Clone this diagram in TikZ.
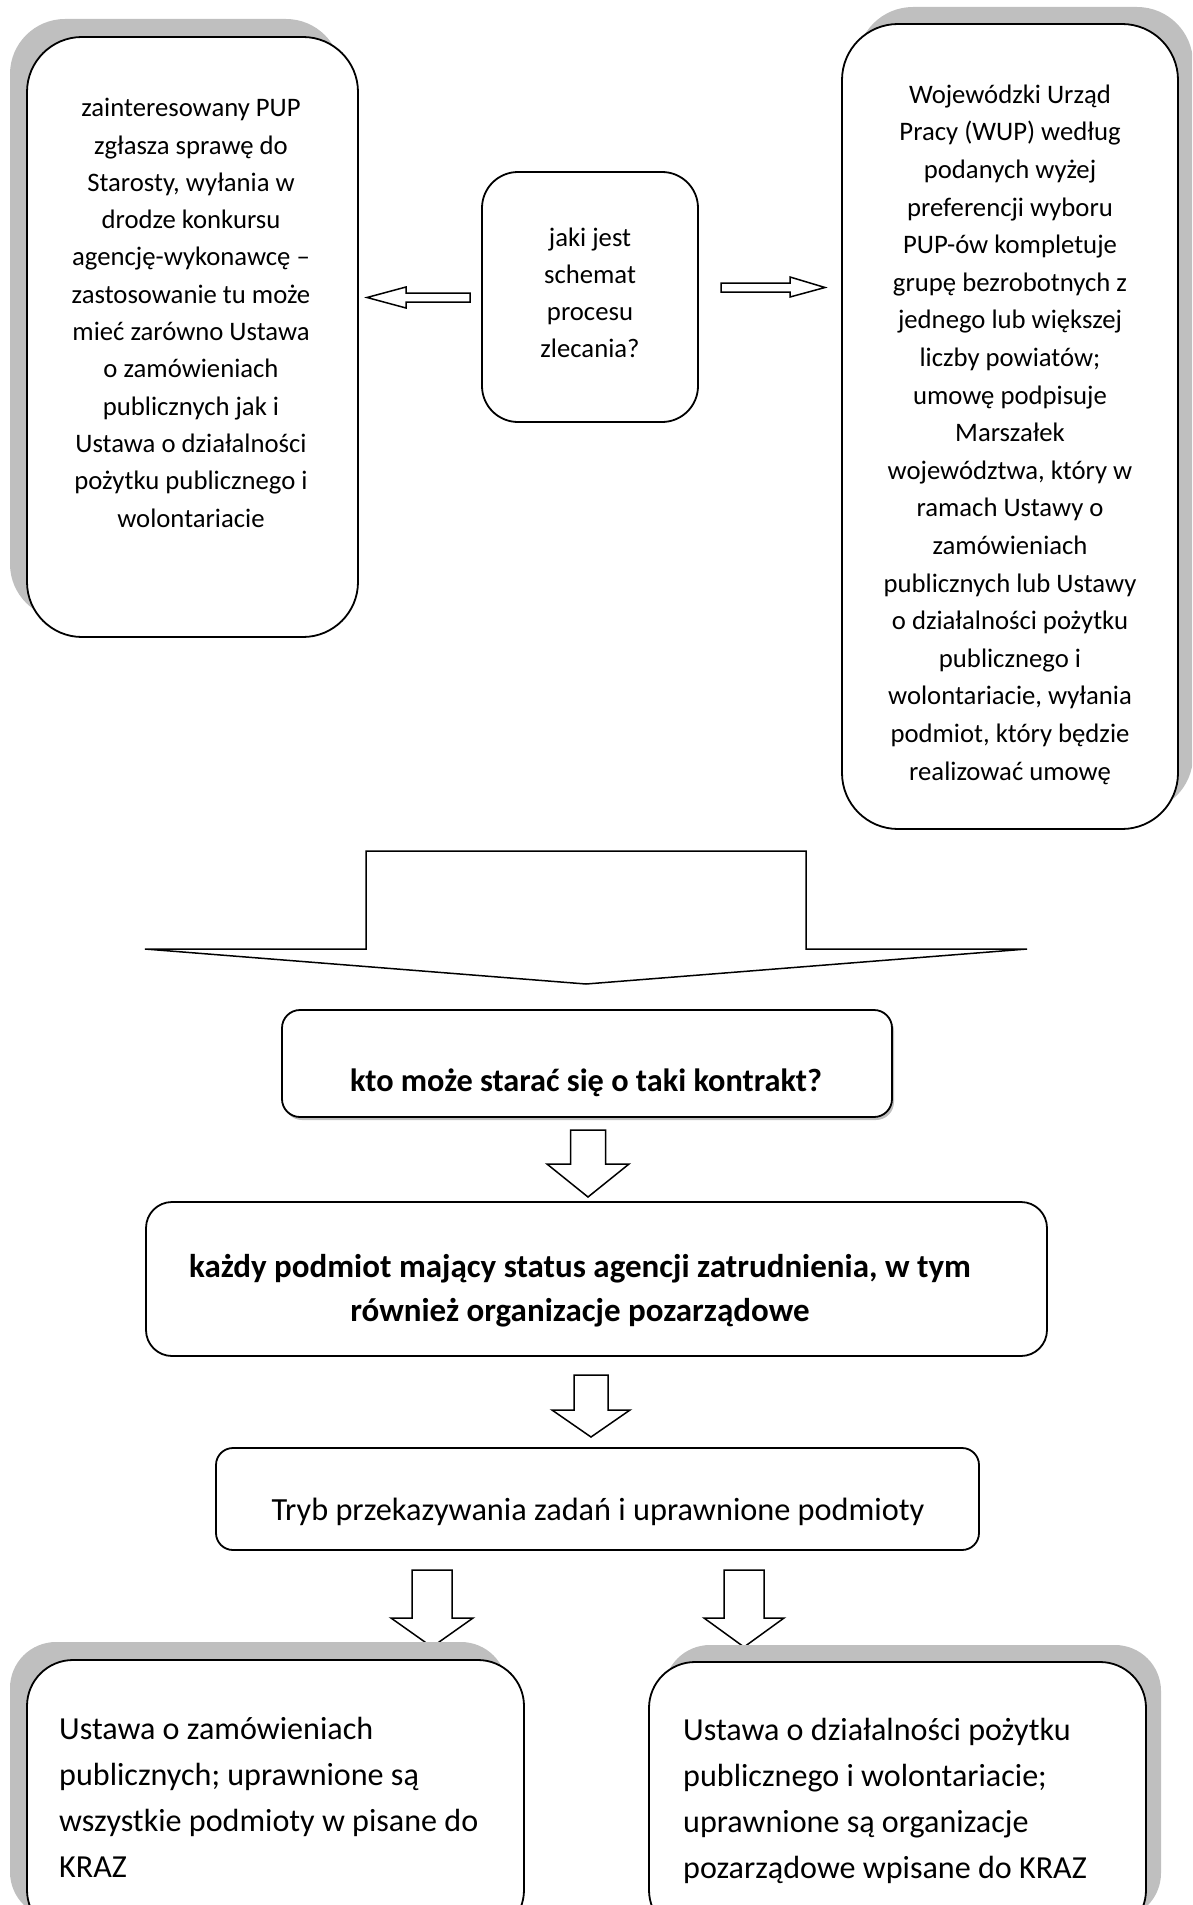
\documentclass[tikz,border=0pt]{standalone}
\usepackage{fontspec}
\setmainfont{Carlito}
\usetikzlibrary{shadows}
\definecolor{shadowgray}{RGB}{191,191,191}
\tikzset{
  rbox/.style={draw=black, line width=1.8pt, fill=white, rounded corners=#1, inner sep=0pt, outer sep=0pt},
  shadowUL/.style={drop shadow={shadow xshift=-17pt, shadow yshift=18pt, fill=shadowgray, opacity=1}},
  shadowUR/.style={drop shadow={shadow xshift=15pt, shadow yshift=17pt, fill=shadowgray, opacity=1}},
  shadowSmall/.style={drop shadow={shadow xshift=2pt, shadow yshift=-3pt, fill=shadowgray, opacity=1}},
  txt/.style 2 args={font=\fontsize{#1}{#2}\selectfont, align=center, inner sep=0pt, anchor=base},
  btxt/.style 2 args={font=\fontsize{#1}{#2}\selectfont\bfseries, align=center, inner sep=0pt, anchor=base},
  ltxt/.style 2 args={font=\fontsize{#1}{#2}\selectfont, align=left, inner sep=0pt, anchor=base west},
  blockarrow/.style={draw=black, line width=1.5pt, fill=white, line join=miter},
}
\begin{document}
\begin{tikzpicture}[x=1pt,y=-1pt]
\useasboundingbox (0,0) rectangle (1192,1905);
\path[clip] (0,0) rectangle (1192,1905);

% top row boxes
\node[rbox=55, shadowUL, minimum width=331, minimum height=600] (L) at (192.5,337) {};
\node[rbox=56, shadowUR, minimum width=336, minimum height=805] (R) at (1010,426.5) {};
\node[rbox=36, minimum width=216, minimum height=250] (C) at (590,297) {};

% (anchor base = baseline of the last line)
\node[txt={26.7}{37.3}] (Lt) at (191,527) {zainteresowany PUP\\ zgłasza sprawę do\\ Starosty, wyłania w\\ drodze konkursu\\ agencję-wykonawcę –\\ zastosowanie tu może\\ mieć zarówno Ustawa\\ o zamówieniach\\ publicznych jak i\\ Ustawa o działalności\\ pożytku publicznego i\\ wolontariacie};
\node[txt={26.7}{37.6}] (Rt) at (1010,780) {Wojewódzki Urząd\\ Pracy (WUP) według\\ podanych wyżej\\ preferencji wyboru\\ PUP-ów kompletuje\\ grupę bezrobotnych z\\ jednego lub większej\\ liczby powiatów;\\ umowę podpisuje\\ Marszałek\\ województwa, który w\\ ramach Ustawy o\\ zamówieniach\\ publicznych lub Ustawy\\ o działalności pożytku\\ publicznego i\\ wolontariacie, wyłania\\ podmiot, który będzie\\ realizować umowę};
\node[txt={26.7}{36.7}] (Ct) at (590,357) {jaki jest\\ schemat\\ procesu\\ zlecania?};

% side arrows
\draw[blockarrow] (470,293) -- (406,293) -- (406,287) -- (367,297.5) -- (406,308) -- (406,302) -- (470,302) -- cycle;
\draw[blockarrow] (721,283) -- (790,283) -- (790,277) -- (825,287.5) -- (790,297) -- (790,292) -- (721,292) -- cycle;

% big down arrow
\draw[blockarrow] (366,851) -- (806,851) -- (806,949) -- (1027,949) -- (586,984) -- (145,949) -- (366,949) -- cycle;

% middle boxes
\node[rbox=18, shadowSmall, minimum width=610, minimum height=107] (K) at (587,1063.5) {};
\node[btxt={32.3}{45}] (Kt) at (586,1091) {kto może starać się o taki kontrakt?};

\draw[blockarrow] (570.5,1130) -- (605.5,1130) -- (605.5,1164) -- (629,1164) -- (588,1197) -- (547,1164) -- (570.5,1164) -- cycle;

\node[rbox=26, minimum width=901, minimum height=154] (P) at (596.5,1279) {};
\node[btxt={33}{44}] (Pt) at (580,1321) {każdy podmiot mający status agencji zatrudnienia, w tym\\ również organizacje pozarządowe};

\draw[blockarrow] (574,1375) -- (608,1375) -- (608,1410) -- (630,1410) -- (591,1437) -- (552,1410) -- (574,1410) -- cycle;

\node[rbox=17, minimum width=763, minimum height=102] (T) at (597.5,1499) {};
\node[txt={32.3}{45}] (Tt) at (598,1520) {Tryb przekazywania zadań i uprawnione podmioty};

\draw[blockarrow] (412,1570) -- (452,1570) -- (452,1618) -- (473,1618) -- (432,1647) -- (391,1618) -- (412,1618) -- cycle;
\draw[blockarrow] (724,1570) -- (764,1570) -- (764,1618) -- (784,1618) -- (744,1647) -- (704,1618) -- (724,1618) -- cycle;

% bottom boxes
\node[rbox=46, shadowUL, minimum width=497, minimum height=276] (BL) at (275.5,1798) {};
\node[rbox=46, shadowUR, minimum width=497, minimum height=274] (BR) at (897.5,1799) {};
\node[ltxt={32.1}{45.7}] (BLt) at (59,1877) {Ustawa o zamówieniach\\ publicznych; uprawnione są\\ wszystkie podmioty w pisane do\\ KRAZ};
\node[ltxt={32.1}{45.7}] (BRt) at (683,1878) {Ustawa o działalności pożytku\\ publicznego i wolontariacie;\\ uprawnione są organizacje\\ pozarządowe wpisane do KRAZ};
\end{tikzpicture}
\end{document}
